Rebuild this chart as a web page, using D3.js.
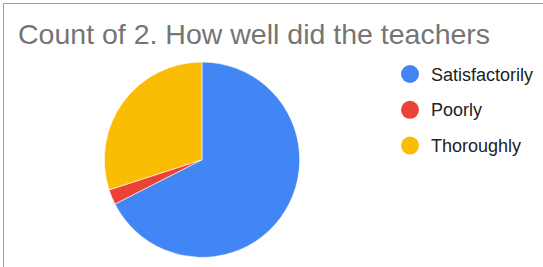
<!DOCTYPE html>
<html>
<head>
<meta charset="utf-8">
<script src="https://cdn.jsdelivr.net/npm/d3@7"></script>
<style>
  body { margin: 0; background: #fff; }
  svg { display: block; }
</style>
</head>
<body>
<div id="chart"></div>
<script>
// answers to question 2, counted
let categories = ['Satisfactorily', 'Poorly', 'Thoroughly']
let counts = [27, 1, 12]
let colors = ['#4285f4', '#ea4335', '#fbbc04']
let title = 'Count of 2. How well did the teachers'

let svgWidth = 543,
    svgHeight = 267

let svg = d3.select('#chart')
    .append('svg')
    .attr('width', svgWidth)
    .attr('height', svgHeight)

// frame, only top and left edges show in the crop
svg.append('rect')
    .attr('x', 3.5)
    .attr('y', 3.5)
    .attr('width', 700)
    .attr('height', 400)
    .attr('fill', 'none')
    .attr('stroke', '#9e9e9e')
    .attr('stroke-width', 1)

svg.append('text')
    .attr('x', 18)
    .attr('y', 44)
    .attr('font-family', 'Liberation Sans, Arial, sans-serif')
    .attr('font-size', '28.5px')
    .attr('fill', '#757575')
    .text(title)

let data = categories.map((c, i) => ({ name: c, value: counts[i], color: colors[i] }))

let radius = 97.7

let pie = d3.pie()
    .sort(null)
    .value(d => d.value)

let arc = d3.arc()
    .innerRadius(0)
    .outerRadius(radius)

let g = svg.append('g')
    .attr('transform', 'translate(202,159.7)')

g.selectAll('.slice')
    .data(pie(data))
    .enter().append('path')
    .attr('class', 'slice')
    .attr('d', arc)
    .attr('fill', d => d.data.color)
    .attr('stroke', '#fff')
    .attr('stroke-width', 0.6)

// legend
let legend = svg.append('g')
    .attr('transform', 'translate(410,74)')

let keys = legend.selectAll('.key')
    .data(data)
    .enter().append('g')
    .attr('class', 'key')
    .attr('transform', (d, i) => `translate(0,${i * 35.8})`)

keys.append('circle')
    .attr('r', 9)
    .attr('fill', d => d.color)

keys.append('text')
    .attr('x', 21)
    .attr('y', 6.5)
    .attr('font-family', 'Liberation Sans, Arial, sans-serif')
    .attr('font-size', '18px')
    .attr('fill', '#222')
    .text(d => d.name)
</script>
</body>
</html>
